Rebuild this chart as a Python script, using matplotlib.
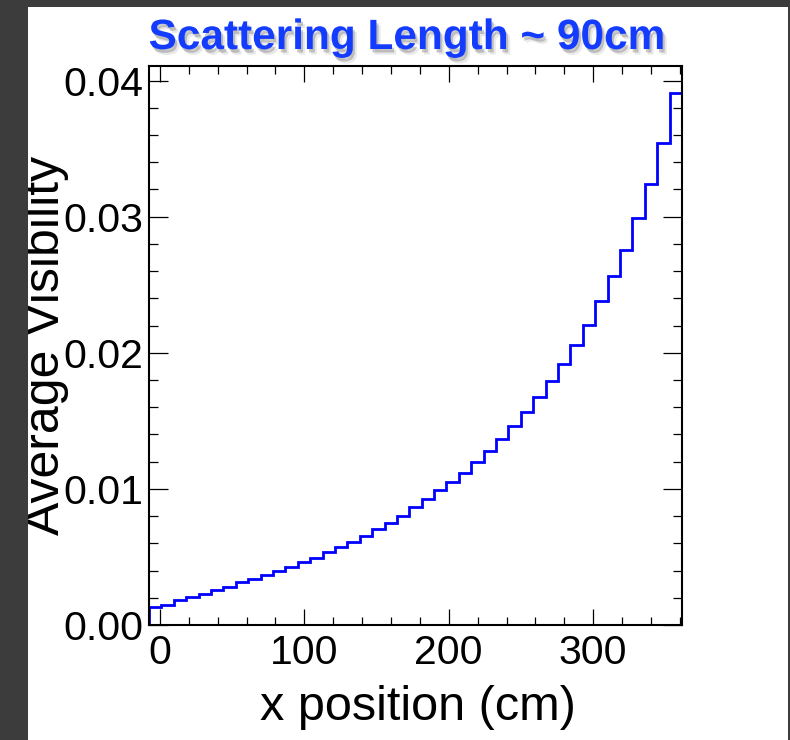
import matplotlib
matplotlib.use("Agg")
import matplotlib.pyplot as plt
import matplotlib.patheffects as pe
import numpy as np
from matplotlib.patches import Rectangle
from matplotlib.ticker import FormatStrFormatter, MultipleLocator

plt.rcParams["font.family"] = ["Liberation Sans", "DejaVu Sans"]

# histogram range (cm) and bin contents
x_lo, x_hi = -7.5, 361.5
n_bins = 43
visibility = [
    0.00134, 0.00145, 0.00186, 0.00206, 0.00230, 0.00259, 0.00279, 0.00316,
    0.00338, 0.00367, 0.00397, 0.00424, 0.00463, 0.00490, 0.00536, 0.00575,
    0.00612, 0.00656, 0.00705, 0.00752, 0.00803, 0.00865, 0.00924, 0.00990,
    0.01053, 0.01119, 0.01200, 0.01281, 0.01364, 0.01464, 0.01563, 0.01673,
    0.01791, 0.01915, 0.02055, 0.02202, 0.02381, 0.02562, 0.02755, 0.02988,
    0.03243, 0.03539, 0.03911,
]
y_max = 0.04107

title = "Scattering Length ~ 90cm"
x_title = "x position (cm)"
y_title = "Average Visibility"

BG = "#3c3c3c"
W, H = 790, 740

edges = np.linspace(x_lo, x_hi, n_bins + 1)

fig = plt.figure(figsize=(W / 100, H / 100), dpi=100, facecolor=BG)

# white slide panel
fig.add_artist(Rectangle((27.7 / W, 0), (788 - 27.7) / W, 733 / H,
                         transform=fig.transFigure, facecolor="white",
                         edgecolor="none", zorder=0))

ax = fig.add_axes([149 / W, 1 - 625 / H, (682 - 149) / W, (625 - 66) / H])
ax.set_zorder(1)

ax.stairs(visibility, edges, color="#0000ff", linewidth=2.0, baseline=0)

ax.set_xlim(x_lo, x_hi)
ax.set_ylim(0, y_max)
ax.xaxis.set_major_locator(MultipleLocator(100))
ax.xaxis.set_minor_locator(MultipleLocator(20))
ax.yaxis.set_major_locator(MultipleLocator(0.01))
ax.yaxis.set_minor_locator(MultipleLocator(0.002))
ax.yaxis.set_major_formatter(FormatStrFormatter("%.2f"))

ax.tick_params(which="both", direction="in", top=True, right=True,
               color="black", width=0.9, labelsize=29.5)
ax.tick_params(axis="x", which="major", length=11.3, pad=6.5)
ax.tick_params(axis="x", which="minor", length=5.5)
ax.tick_params(axis="y", which="major", length=13.7, pad=4)
ax.tick_params(axis="y", which="minor", length=6.5)
for sp in ax.spines.values():
    sp.set_linewidth(1.5)

fig.text(407 / W, 1 - 49 / H, title, ha="center", va="baseline",
         fontsize=30.5, fontweight="bold", color="#143cff",
         path_effects=[
             pe.SimplePatchShadow(offset=(3, -4), shadow_rgbFace="#888888", alpha=0.18),
             pe.SimplePatchShadow(offset=(1.5, -2.5), shadow_rgbFace="#555555", alpha=0.3),
             pe.Normal(),
         ])
fig.text(418 / W, 1 - 720 / H, x_title, ha="center", va="baseline", fontsize=35)
fig.text(46 / W, 1 - 345 / H, y_title, rotation=90, ha="center", va="center",
         fontsize=36)

# dark slide edge drawn over the clipped axis title
fig.add_artist(Rectangle((0, 0), 27.7 / W, 1, transform=fig.transFigure,
                         facecolor=BG, edgecolor="none", zorder=10))
fig.add_artist(Rectangle((0, 733 / H), 1, 7 / H, transform=fig.transFigure,
                         facecolor=BG, edgecolor="none", zorder=10))

fig.savefig("out.png", dpi=100, facecolor=BG)
